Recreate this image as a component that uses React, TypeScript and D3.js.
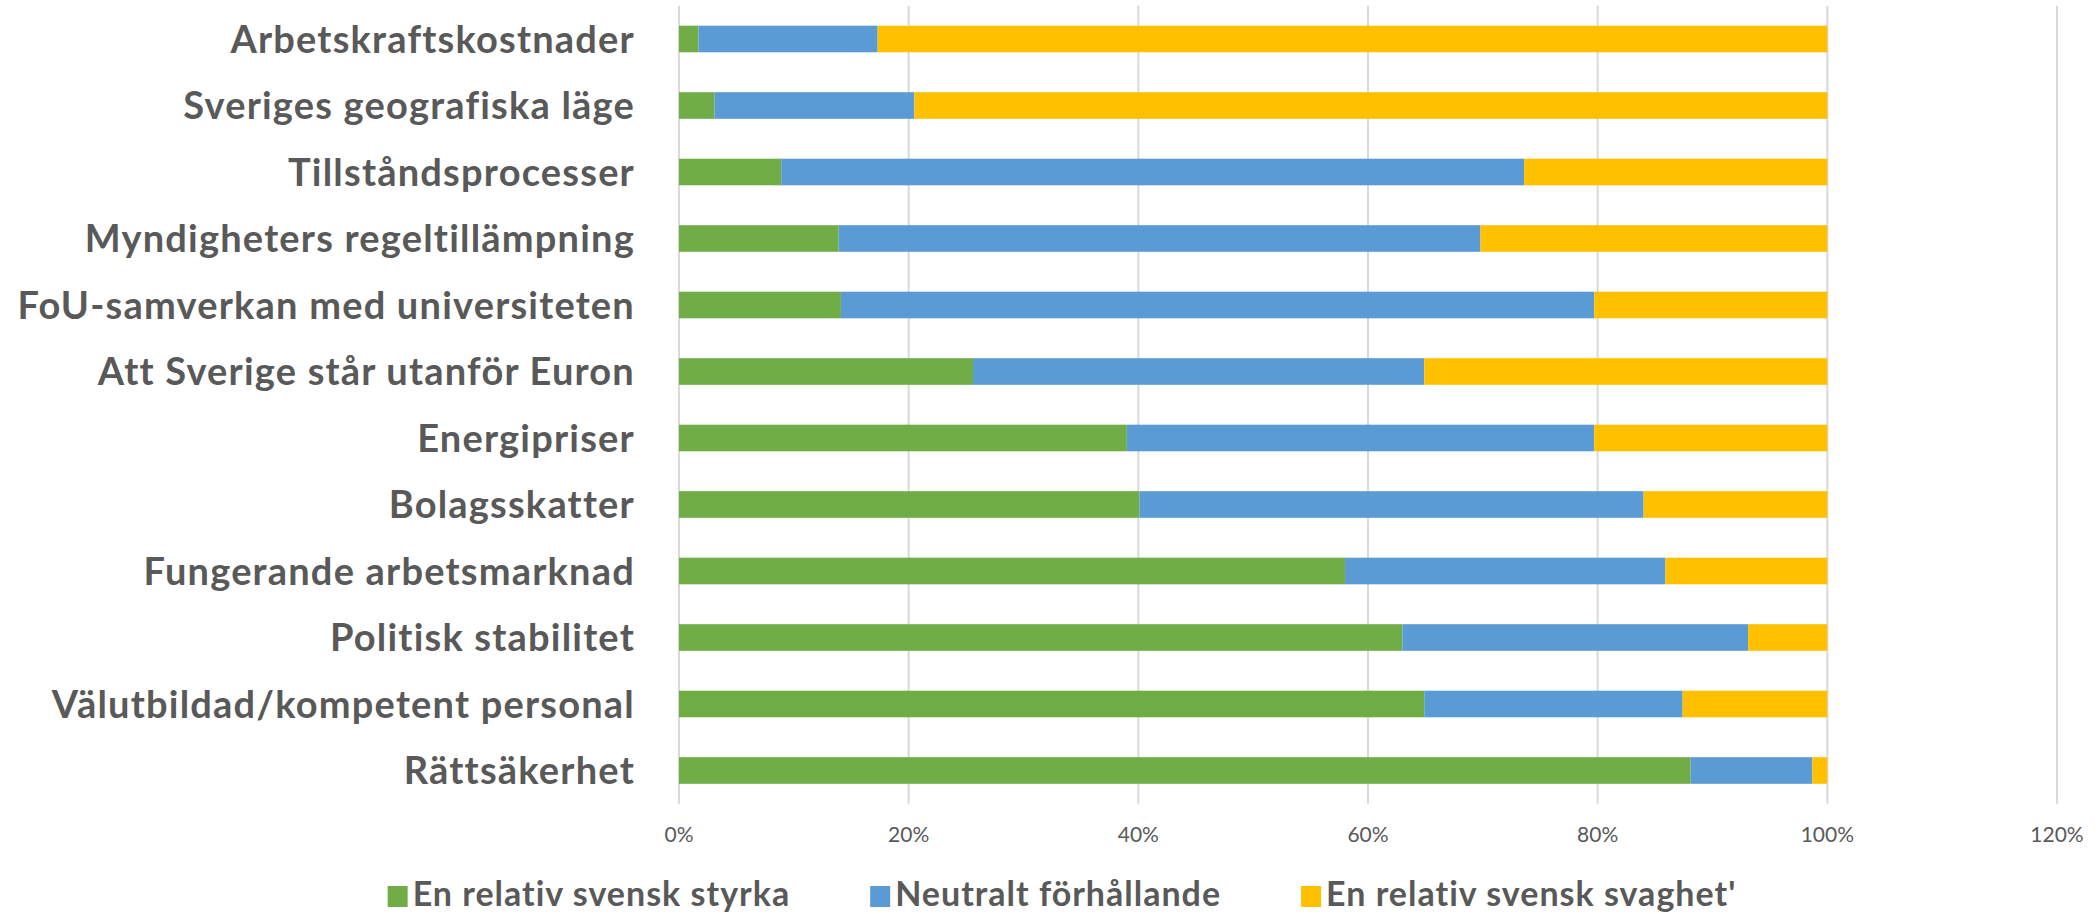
import { useRef, useEffect } from "react";
import * as d3 from "d3";

// ── Data ──────────────────────────────────────────────────────────────────────

const CATEGORIES = [
  "Arbetskraftskostnader",
  "Sveriges geografiska läge",
  "Tillståndsprocesser",
  "Myndigheters regeltillämpning",
  "FoU-samverkan med universiteten",
  "Att Sverige står utanför Euron",
  "Energipriser",
  "Bolagsskatter",
  "Fungerande arbetsmarknad",
  "Politisk stabilitet",
  "Välutbildad/kompetent personal",
  "Rättsäkerhet",
];

const STRENGTH = [1.7, 3.1, 8.9, 13.9, 14.1, 25.6, 39.0, 40.1, 58.0, 63.0, 64.9, 88.1];
const NEUTRAL = [15.6, 17.4, 64.7, 55.9, 65.6, 39.3, 40.7, 43.9, 27.9, 30.1, 22.5, 10.6];
const WEAKNESS = [82.7, 79.5, 26.4, 30.2, 20.3, 35.1, 20.3, 16.0, 14.1, 6.9, 12.6, 1.3];

const SERIES = [
  { key: "strength", label: "En relativ svensk styrka", color: "#70AD47" },
  { key: "neutral", label: "Neutralt förhållande", color: "#5B9BD5" },
  { key: "weakness", label: "En relativ svensk svaghet'", color: "#FFC000" },
];

const X_TICKS = [0, 0.2, 0.4, 0.6, 0.8, 1.0, 1.2];

// ── Layout ────────────────────────────────────────────────────────────────────

const WIDTH = 2098;
const HEIGHT = 914;
const PLOT = { left: 679, right: 2057, top: 5.75, bottom: 803.75 };
const TEXT_COLOR = "#595959";
const FONT = "Lato, 'Open Sans', sans-serif";
const LABEL_SIZE = 38;
const LABEL_SPACING = 1.2;
const LEGEND_SIZE = 34;
const LEGEND_SPACING = 1.0;

function renderChart(svg: SVGSVGElement): void {
  const root = d3.select(svg);
  root.selectAll("*").remove();

  const rows = CATEGORIES.map((c, i) => ({
    category: c,
    strength: STRENGTH[i] / 100,
    neutral: NEUTRAL[i] / 100,
    weakness: WEAKNESS[i] / 100,
  }));

  const x = d3.scaleLinear().domain([0, 1.2]).range([PLOT.left, PLOT.right]);
  const y = d3
    .scaleBand()
    .domain(CATEGORIES)
    .range([PLOT.top, PLOT.bottom])
    .paddingInner(0.6)
    .paddingOuter(0.3);

  // Grid lines
  root
    .append("g")
    .selectAll("line")
    .data(X_TICKS)
    .join("line")
    .attr("x1", (d) => x(d))
    .attr("x2", (d) => x(d))
    .attr("y1", PLOT.top)
    .attr("y2", PLOT.bottom)
    .attr("stroke", "#d9d9d9")
    .attr("stroke-width", 2);

  // X tick labels
  root
    .append("g")
    .selectAll("text")
    .data(X_TICKS)
    .join("text")
    .attr("x", (d) => x(d))
    .attr("y", 842)
    .attr("text-anchor", "middle")
    .attr("fill", TEXT_COLOR)
    .attr("font-size", 21)
    .attr("font-family", FONT)
    .text((d) => d3.format(".0%")(d));

  // Stacked bars
  const stack = d3.stack<(typeof rows)[number]>().keys(SERIES.map((s) => s.key));
  const layers = stack(rows as any);

  root
    .append("g")
    .selectAll("g")
    .data(layers)
    .join("g")
    .attr("fill", (_, i) => SERIES[i].color)
    .selectAll("rect")
    .data((d) => d)
    .join("rect")
    .attr("x", (d) => x(d[0]))
    .attr("y", (d) => y((d.data as any).category) ?? 0)
    .attr("width", (d) => x(d[1]) - x(d[0]))
    .attr("height", y.bandwidth());

  // Category labels
  root
    .append("g")
    .selectAll("text")
    .data(CATEGORIES)
    .join("text")
    .attr("x", 635)
    .attr("y", (d) => (y(d) ?? 0) + y.bandwidth() / 2 + 13.5)
    .attr("text-anchor", "end")
    .attr("fill", TEXT_COLOR)
    .attr("font-size", LABEL_SIZE)
    .attr("font-weight", 700)
    .attr("letter-spacing", LABEL_SPACING)
    .attr("font-family", FONT)
    .text((d) => d);

  // Legend, laid out from measured text widths and centred
  const legend = root.append("g");
  const items = legend
    .selectAll("g")
    .data(SERIES)
    .join("g");
  items
    .append("rect")
    .attr("x", 0)
    .attr("y", 886)
    .attr("width", 20)
    .attr("height", 21)
    .attr("fill", (d) => d.color);
  items
    .append("text")
    .attr("x", 25)
    .attr("y", 906)
    .attr("fill", TEXT_COLOR)
    .attr("font-size", LEGEND_SIZE)
    .attr("font-weight", 700)
    .attr("letter-spacing", LEGEND_SPACING)
    .attr("font-family", FONT)
    .text((d) => d.label);

  const widths = items.nodes().map((n) => 25 + (n.querySelector("text") as SVGTextElement).getComputedTextLength());
  const gap = 80;
  const total = d3.sum(widths) + gap * (widths.length - 1);
  let cursor = 1062 - total / 2;
  items.attr("transform", (_, i) => {
    const t = `translate(${cursor},0)`;
    cursor += widths[i] + gap;
    return t;
  });
}

export default function App() {
  const svgRef = useRef<SVGSVGElement>(null);

  useEffect(() => {
    if (!svgRef.current) return;
    renderChart(svgRef.current);
  }, []);

  return (
    <svg
      ref={svgRef}
      width={WIDTH}
      height={HEIGHT}
      viewBox={`0 0 ${WIDTH} ${HEIGHT}`}
      style={{ position: "absolute", left: 0, top: 0, display: "block", background: "#fff" }}
    />
  );
}
